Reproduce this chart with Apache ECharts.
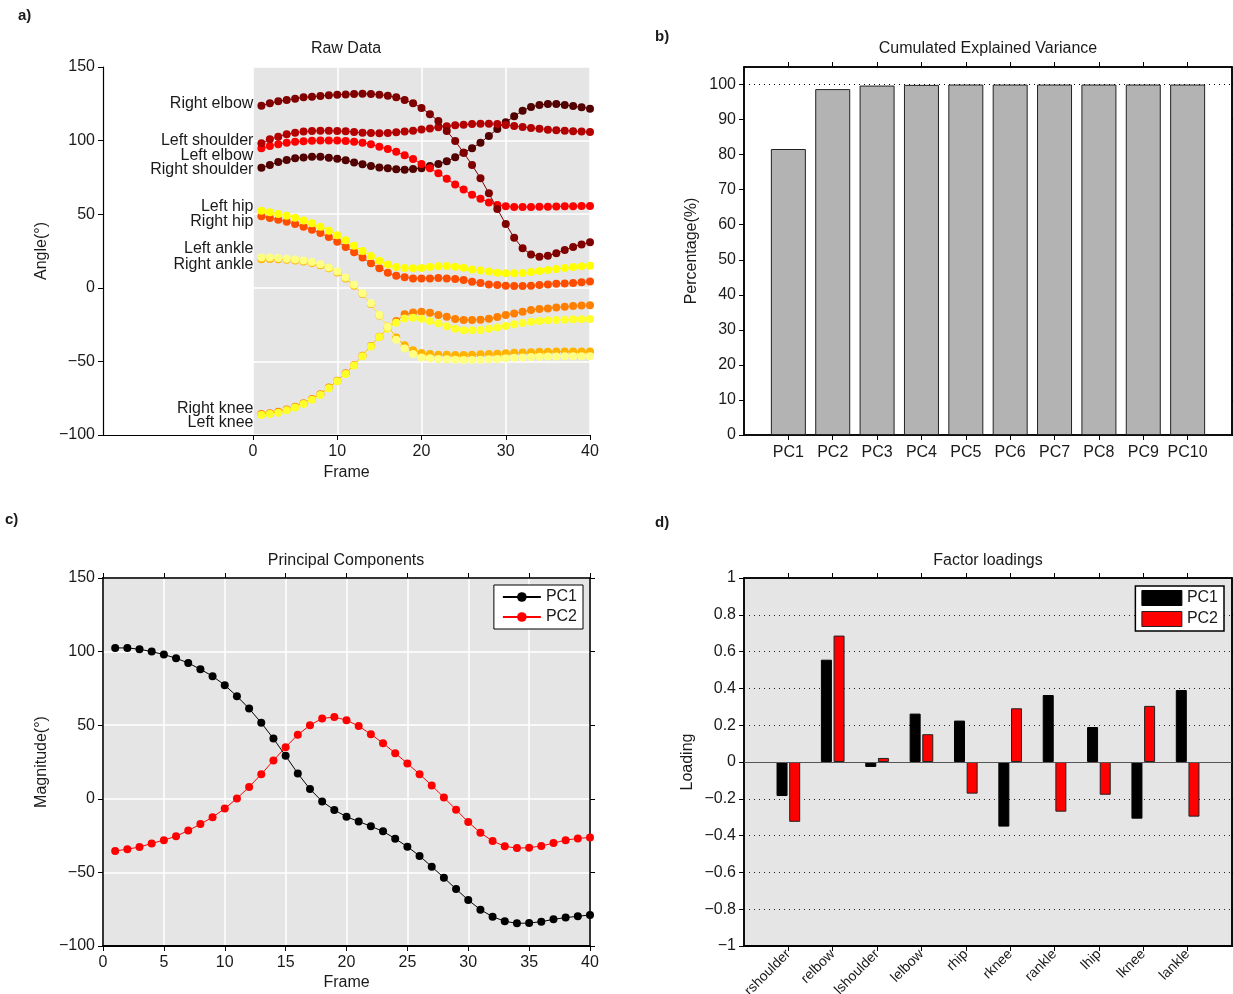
<!DOCTYPE html>
<html><head><meta charset="utf-8">
<script src="https://cdn.jsdelivr.net/npm/echarts@6/dist/echarts.min.js"></script>
<style>html,body{margin:0;padding:0;background:#fff}#c{width:1233px;height:994px}</style>
</head><body><div id="c"></div>
<script>
// ---------- DATA ----------
const frames = [1,2,3,4,5,6,7,8,9,10,11,12,13,14,15,16,17,18,19,20,21,22,23,24,25,26,27,28,29,30,31,32,33,34,35,36,37,38,39,40];
const rawNames = ['Right elbow','Left shoulder','Left elbow','Right shoulder','Left hip','Right hip','Left ankle','Right ankle','Right knee','Left knee'];
const rightElbow = [123.7,125.3,126.7,127.6,128.5,129.4,129.8,130.3,130.8,131.2,131.4,131.7,131.9,131.7,131.2,130.5,129.4,127.6,125.3,122.2,117.9,113.3,106.5,99.7,91.8,83.4,74.4,64.2,53.5,43.3,34.0,26.8,22.7,21.1,21.8,23.4,25.7,27.7,29.5,31.0];
const leftShoulder = [98.2,100.9,102.7,104.3,105.4,106.1,106.5,106.7,106.7,106.5,106.3,105.8,105.4,105.2,105.0,105.2,105.6,106.1,106.7,107.5,108.3,109.0,109.7,110.4,110.8,111.3,111.5,111.5,111.3,110.6,109.9,109.3,108.6,108.1,107.4,107.0,106.7,106.3,106.1,105.8];
const leftElbow = [94.8,96.3,97.6,98.6,99.2,99.6,99.9,100.0,100.0,100.0,99.8,99.3,98.5,97.5,95.8,94.3,92.4,90.0,87.5,84.1,81.2,77.9,74.0,70.2,66.7,63.2,60.5,58.0,56.3,55.4,54.9,54.9,54.9,55.0,55.0,55.2,55.4,55.4,55.6,55.6];
const rightShoulder = [81.6,83.4,85.4,86.8,88.0,88.6,89.1,89.0,88.4,87.7,86.6,85.2,83.9,82.7,81.8,81.2,80.5,80.2,80.7,81.2,82.8,84.1,85.9,88.7,91.8,94.8,98.6,103.2,107.9,112.4,116.5,120.3,122.8,124.2,124.9,124.9,124.2,123.5,122.6,121.7];
const leftHip = [52.4,51.3,50.2,49.0,47.6,45.8,43.8,41.5,38.8,35.7,32.3,28.6,25.0,21.6,18.4,15.9,14.1,13.4,13.3,13.5,14.1,14.6,14.8,14.3,13.7,12.5,11.7,11.0,10.3,9.8,9.8,10.0,10.7,11.4,12.1,12.8,13.5,14.1,14.6,15.0];
const rightHip = [48.6,47.4,46.3,44.9,43.3,41.5,39.5,37.2,34.5,31.3,27.7,24.1,20.5,16.6,13.2,10.3,8.2,7.1,6.4,6.4,6.4,6.7,6.4,5.9,5.3,4.1,3.2,2.3,1.9,1.4,1.2,1.2,1.4,1.9,2.3,2.8,3.0,3.2,3.7,4.3];
const leftAnkle = [20.5,20.5,20.3,19.8,19.3,18.6,17.5,16.0,13.8,11.0,7.0,2.0,-3.7,-10.5,-18.5,-26.5,-35.3,-41.2,-45.0,-47.3,-47.9,-48.3,-48.5,-48.8,-49.0,-49.0,-48.8,-48.5,-48.3,-47.9,-47.5,-47.3,-47.0,-46.8,-46.7,-46.7,-46.5,-46.5,-46.5,-46.5];
const rightAnkle = [19.4,19.5,19.4,19.0,18.5,17.8,16.8,15.3,13.2,10.4,6.4,1.4,-4.2,-11.0,-18.8,-26.3,-33.8,-39.0,-42.5,-44.3,-45.0,-45.4,-45.4,-45.7,-45.7,-45.4,-45.2,-45.0,-44.8,-44.4,-44.1,-43.9,-43.7,-43.4,-43.4,-43.2,-43.2,-43.2,-43.2,-43.2];
const rightKnee = [-85.7,-85.3,-84.2,-82.6,-80.8,-78.5,-75.5,-72.4,-67.8,-63.1,-58.1,-52.4,-46.1,-39.5,-33.2,-27.5,-22.6,-18.0,-16.7,-16.2,-16.9,-18.5,-19.6,-21.2,-21.9,-21.9,-21.7,-21.0,-19.8,-18.5,-17.4,-16.2,-15.1,-14.4,-14.0,-13.3,-12.8,-12.4,-12.1,-11.9];
const leftKnee = [-86.4,-85.8,-84.8,-83.2,-81.4,-79.0,-76.0,-72.8,-68.2,-63.5,-58.5,-52.8,-46.5,-39.8,-33.5,-27.8,-23.7,-20.8,-20.3,-21.0,-22.6,-24.1,-26.2,-27.9,-28.9,-28.9,-28.7,-27.9,-26.9,-25.9,-24.8,-23.9,-23.0,-22.6,-22.1,-21.9,-21.7,-21.4,-21.4,-21.2];

const pc1Scores = [102.5,102.5,101.6,100.0,98.0,95.5,92.3,88.0,83.3,77.2,69.7,61.3,51.6,40.9,29.2,17.2,6.6,-1.8,-7.6,-12.2,-15.4,-18.7,-22.1,-27.1,-32.5,-38.8,-46.1,-53.6,-61.3,-68.8,-75.3,-80.1,-83.2,-84.6,-84.4,-83.5,-81.9,-80.7,-79.8,-78.9];
const pc2Scores = [-35.5,-34.2,-32.8,-30.3,-28.1,-25.4,-21.6,-17.2,-12.5,-6.6,0.2,8.1,16.7,26.0,35.1,43.5,50.0,54.6,55.5,53.4,49.4,43.9,37.8,31.0,24.0,16.7,9.1,0.9,-7.4,-15.8,-23.1,-28.7,-32.3,-33.5,-33.2,-32.1,-30.1,-28.1,-26.9,-26.3];

const pcNames = ['PC1','PC2','PC3','PC4','PC5','PC6','PC7','PC8','PC9','PC10'];
const cumVariance = [81.6,98.7,99.7,99.9,100,100,100,100,100,100];

const joints = ['rshoulder','relbow','lshoulder','lelbow','rhip','rknee','rankle','lhip','lknee','lankle'];
const loadPC1 = [-0.185,0.556,-0.027,0.263,0.225,-0.351,0.364,0.190,-0.308,0.391];
const loadPC2 = [-0.325,0.687,0.022,0.151,-0.172,0.292,-0.270,-0.178,0.305,-0.297];

const barTicks = [1,2,3,4,5,6,7,8,9,10];
const pctTicks = [0,10,20,30,40,50,60,70,80,90,100];

// ---------- STYLE ----------
const FONT = 'Liberation Sans, Arial, Helvetica, sans-serif';
const TXT = '#1a1a1a';
const GREY = '#e5e5e5';
const rawSeriesValues = [rightElbow,leftShoulder,leftElbow,rightShoulder,leftHip,rightHip,leftAnkle,rightAnkle,rightKnee,leftKnee];
const rawColors = ['#800000','#b30000','#ff0000','#520000','#ffff00','#ff4d00','#ffff80','#ffb300','#ff8000','#ffff2a'];
const labelDy = [-2,-3,7,2,-4,5,-9,5,-5,8];
const drawOrder = [9,8,7,6,5,4,3,2,0,1]; // larger = on top

const minusFmt = v => { const n = parseFloat(Number(v).toFixed(1)); return n < 0 ? '\u2212' + Math.abs(n) : String(n); };
const tickStyle = {show:true, inside:false, length:5, lineStyle:{color:'#000', width:1}};
const lblStyle = {color:TXT, fontSize:16, fontFamily:FONT};
const nameStyle = {color:TXT, fontSize:16, fontFamily:FONT};
const axLine = w => ({show:true, onZero:false, lineStyle:{color:'#000', width:w}});

const chart = echarts.init(document.getElementById('c'), null, {renderer:'canvas'});

const series = [];
rawSeriesValues.forEach((vals, si) => {
  series.push({
    type:'line', name:rawNames[si], xAxisIndex:1, yAxisIndex:1,
    data: vals.map((v,i) => i === 0
      ? {value:[frames[i], v], label:{show:true, position:'left', distance:4, formatter:rawNames[si], offset:[0,labelDy[si]], color:TXT, fontSize:16, fontFamily:FONT}}
      : [frames[i], v]),
    symbol:'circle', symbolSize:8, showAllSymbol:true,
    lineStyle:{color:rawColors[si], width:1},
    itemStyle:{color:rawColors[si]},
    emphasis:{disabled:true}, silent:true, z:3 + drawOrder[si] * 0.01
  });
});
series.push({
  type:'line', name:'PC1', xAxisIndex:4, yAxisIndex:4,
  data: pc1Scores.map((v,i)=>[frames[i],v]),
  symbol:'circle', symbolSize:8, showAllSymbol:true,
  lineStyle:{color:'#000', width:1}, itemStyle:{color:'#000'}, emphasis:{disabled:true}, silent:true
});
series.push({
  type:'line', name:'PC2', xAxisIndex:4, yAxisIndex:4,
  data: pc2Scores.map((v,i)=>[frames[i],v]),
  symbol:'circle', symbolSize:8, showAllSymbol:true,
  lineStyle:{color:'#ff0000', width:1}, itemStyle:{color:'#ff0000'}, emphasis:{disabled:true}, silent:true
});
series.push({
  type:'bar', name:'Cumulated', xAxisIndex:2, yAxisIndex:2,
  data: cumVariance.map((v,i)=>[barTicks[i], v]),
  barWidth:35,
  itemStyle:{color:'#b3b3b3', borderColor:'#222', borderWidth:1},
  markLine:{silent:true, symbol:'none', label:{show:false},
    lineStyle:{color:'#000', type:[1,4], width:1},
    data:[{yAxis:100}]},
  emphasis:{disabled:true}, silent:true
});
series.push({
  type:'bar', name:'PC1', xAxisIndex:6, yAxisIndex:6,
  data: loadPC1.map((v,i)=>[barTicks[i], v]),
  barWidth:11, barGap:'15%',
  itemStyle:{color:'#000', borderColor:'#000', borderWidth:1},
  markLine:{silent:true, symbol:'none', label:{show:false},
    lineStyle:{color:'#555', type:'solid', width:1},
    data:[{yAxis:0}]},
  emphasis:{disabled:true}, silent:true
});
series.push({
  type:'bar', name:'PC2', xAxisIndex:6, yAxisIndex:6,
  data: loadPC2.map((v,i)=>[barTicks[i], v]),
  barWidth:11, barGap:'15%',
  itemStyle:{color:'#ff0000', borderColor:'#222', borderWidth:1},
  emphasis:{disabled:true}, silent:true
});

const option = {
  animation:false,
  backgroundColor:'#fff',
  textStyle:{fontFamily:FONT},
  title:[
    {text:'a)', left:18, top:8, padding:0, textStyle:{fontSize:15, fontWeight:'bold', color:TXT, fontFamily:FONT}},
    {text:'b)', left:655, top:29, padding:0, textStyle:{fontSize:15, fontWeight:'bold', color:TXT, fontFamily:FONT}},
    {text:'c)', left:5, top:512, padding:0, textStyle:{fontSize:15, fontWeight:'bold', color:TXT, fontFamily:FONT}},
    {text:'d)', left:655, top:515, padding:0, textStyle:{fontSize:15, fontWeight:'bold', color:TXT, fontFamily:FONT}},
    {text:'Raw Data', left:346, top:41, padding:0, textAlign:'center', textStyle:{fontSize:16, fontWeight:'normal', color:TXT, fontFamily:FONT}},
    {text:'Cumulated Explained Variance', left:988, top:41, padding:0, textAlign:'center', textStyle:{fontSize:16, fontWeight:'normal', color:TXT, fontFamily:FONT}},
    {text:'Principal Components', left:346, top:553, padding:0, textAlign:'center', textStyle:{fontSize:16, fontWeight:'normal', color:TXT, fontFamily:FONT}},
    {text:'Factor loadings', left:988, top:553, padding:0, textAlign:'center', textStyle:{fontSize:16, fontWeight:'normal', color:TXT, fontFamily:FONT}}
  ],
  legend:[
    {data:['PC1','PC2'], orient:'vertical', right:650, top:585, padding:[4,6,4,8], itemGap:4,
     itemWidth:38, itemHeight:12, backgroundColor:'#fff', borderColor:'#000', borderWidth:1,
     textStyle:{fontSize:16, color:TXT, fontFamily:FONT}, selectedMode:false},
    {data:[{name:'PC1', icon:'rect', itemStyle:{color:'#000', borderColor:'#000', borderWidth:1}},
           {name:'PC2', icon:'rect', itemStyle:{color:'#ff0000', borderColor:'#222', borderWidth:1}}],
     orient:'vertical', right:9, top:586, padding:[4,6,4,6], itemGap:5,
     itemWidth:40, itemHeight:15, backgroundColor:'#fff', borderColor:'#000', borderWidth:1.5,
     textStyle:{fontSize:16, color:TXT, fontFamily:FONT}, selectedMode:false}
  ],
  grid:[
    {left:103, top:67, width:487, height:368, show:false, outerBoundsMode:'none', containLabel:false},
    {left:253, top:67, width:337, height:368, show:true, backgroundColor:GREY, borderWidth:0, outerBoundsMode:'none', containLabel:false},
    {left:744, top:67, width:488, height:368, show:true, backgroundColor:'#fff', borderColor:'#000', borderWidth:1.5, outerBoundsMode:'none', containLabel:false},
    {left:103, top:578, width:487, height:368, show:true, backgroundColor:GREY, borderColor:'#000', borderWidth:1.5, outerBoundsMode:'none', containLabel:false},
    {left:744, top:578, width:488, height:368, show:true, backgroundColor:GREY, borderColor:'#000', borderWidth:1.5, outerBoundsMode:'none', containLabel:false}
  ],
  xAxis:[
    {gridIndex:0, type:'value', min:-17.8, max:40, axisLine:axLine(1.2),
     axisTick:{show:false}, axisLabel:{show:false}, splitLine:{show:false},
     name:'Frame', nameLocation:'middle', nameGap:30, nameTextStyle:nameStyle},
    {gridIndex:1, type:'value', min:0, max:40, interval:10, axisLine:{show:false, onZero:false},
     axisTick:tickStyle, axisLabel:Object.assign({margin:9}, lblStyle),
     splitLine:{show:true, lineStyle:{color:'#fff', width:1.5}}},
    {gridIndex:2, type:'value', min:0, max:11, axisLine:axLine(1.5),
     axisTick:Object.assign({}, tickStyle, {customValues:barTicks}),
     axisLabel:Object.assign({margin:10, customValues:barTicks, formatter:v=>pcNames[Math.round(v)-1]}, lblStyle),
     splitLine:{show:false}},
    {gridIndex:2, type:'value', position:'top', min:0, max:11, axisLine:axLine(1.5),
     axisTick:Object.assign({}, tickStyle, {customValues:barTicks}), axisLabel:{show:false}, splitLine:{show:false}},
    {gridIndex:3, type:'value', min:0, max:40, interval:5, axisLine:axLine(2),
     axisTick:tickStyle, axisLabel:Object.assign({margin:9}, lblStyle),
     splitLine:{show:true, lineStyle:{color:'#fff', width:1.5}},
     name:'Frame', nameLocation:'middle', nameGap:29, nameTextStyle:nameStyle},
    {gridIndex:3, type:'value', position:'top', min:0, max:40, interval:5, axisLine:axLine(1.5),
     axisTick:tickStyle, axisLabel:{show:false}, splitLine:{show:false}},
    {gridIndex:4, type:'value', min:0, max:11, axisLine:axLine(2),
     axisTick:Object.assign({}, tickStyle, {customValues:barTicks}),
     axisLabel:{customValues:barTicks, formatter:v=>joints[Math.round(v)-1], rotate:45, margin:6, color:TXT, fontSize:14, fontFamily:FONT},
     splitLine:{show:false}},
    {gridIndex:4, type:'value', position:'top', min:0, max:11, axisLine:axLine(1.5),
     axisTick:Object.assign({}, tickStyle, {customValues:barTicks}), axisLabel:{show:false}, splitLine:{show:false}}
  ],
  yAxis:[
    {gridIndex:0, type:'value', min:-100, max:150, interval:50,
     axisLine:axLine(1.2), axisTick:tickStyle,
     axisLabel:Object.assign({margin:8, formatter:minusFmt}, lblStyle), splitLine:{show:false},
     name:'Angle(\u00b0)', nameLocation:'middle', nameGap:53, nameTextStyle:nameStyle},
    {gridIndex:1, type:'value', min:-100, max:150, interval:50, axisLine:{show:false, onZero:false}, axisTick:{show:false}, axisLabel:{show:false},
     splitLine:{show:true, lineStyle:{color:'#fff', width:1.5}}},
    {gridIndex:2, type:'value', min:0, max:105, interval:10,
     axisLine:axLine(1.5),
     axisTick:Object.assign({}, tickStyle, {customValues:pctTicks}),
     axisLabel:Object.assign({margin:8, customValues:pctTicks}, lblStyle), splitLine:{show:false},
     name:'Percentage(%)', nameLocation:'middle', nameGap:44, nameTextStyle:nameStyle},
    {gridIndex:2, type:'value', position:'right', min:0, max:105, interval:10,
     axisLine:axLine(1.5),
     axisTick:Object.assign({}, tickStyle, {customValues:pctTicks}), axisLabel:{show:false}, splitLine:{show:false}},
    {gridIndex:3, type:'value', min:-100, max:150, interval:50,
     axisLine:axLine(1.5), axisTick:tickStyle,
     axisLabel:Object.assign({margin:8, formatter:minusFmt}, lblStyle),
     splitLine:{show:true, lineStyle:{color:'#fff', width:1.5}},
     name:'Magnitude(\u00b0)', nameLocation:'middle', nameGap:53, nameTextStyle:nameStyle},
    {gridIndex:3, type:'value', position:'right', min:-100, max:150, interval:50,
     axisLine:axLine(1.5), axisTick:tickStyle, axisLabel:{show:false}, splitLine:{show:false}},
    {gridIndex:4, type:'value', min:-1, max:1, interval:0.2,
     axisLine:axLine(1.5), axisTick:tickStyle,
     axisLabel:Object.assign({margin:8, formatter:minusFmt}, lblStyle),
     splitLine:{show:true, lineStyle:{color:'#222', type:[1,4], width:1}},
     name:'Loading', nameLocation:'middle', nameGap:48, nameTextStyle:nameStyle},
    {gridIndex:4, type:'value', position:'right', min:-1, max:1, interval:0.2,
     axisLine:axLine(1.5), axisTick:tickStyle, axisLabel:{show:false}, splitLine:{show:false}}
  ],
  series: series
};
chart.setOption(option);
</script>
</body></html>
